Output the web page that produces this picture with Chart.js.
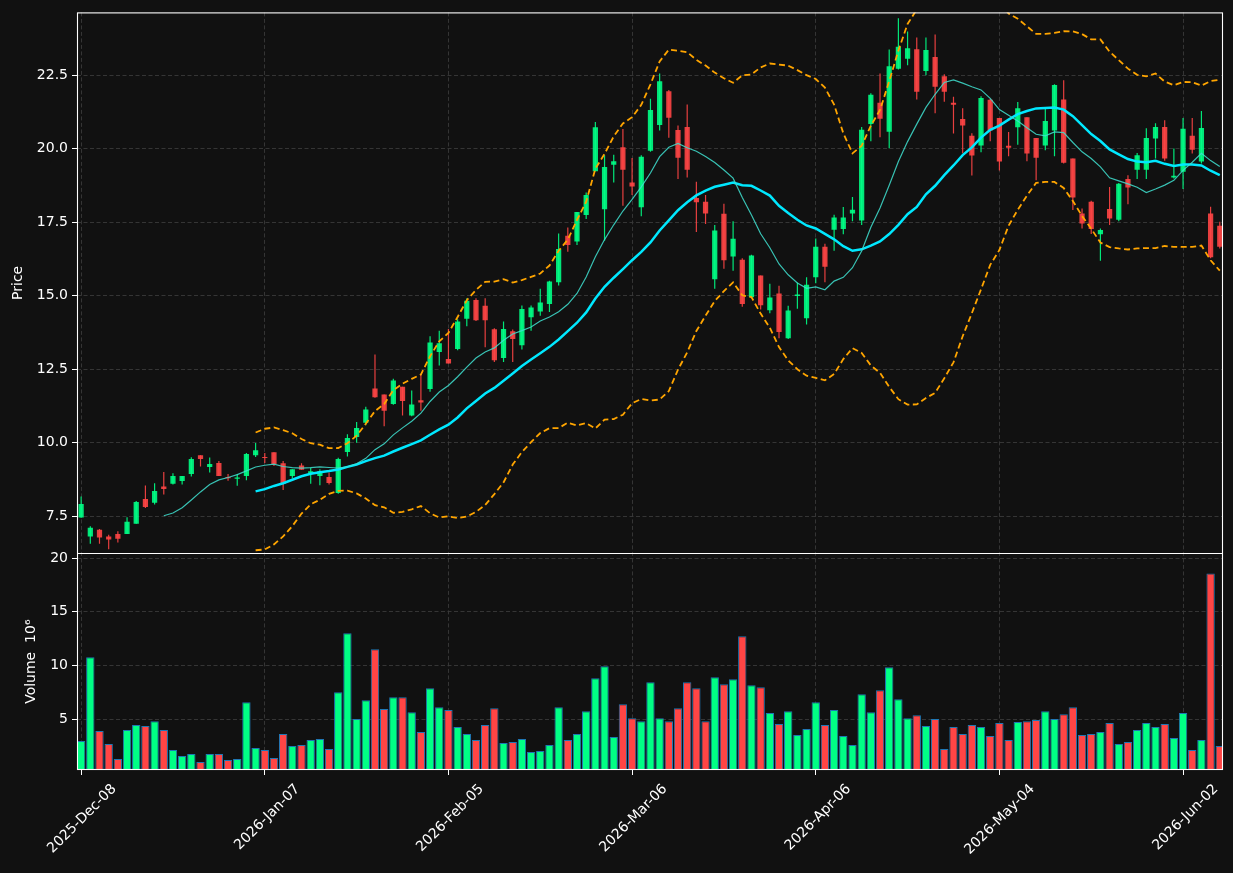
<!DOCTYPE html>
<html><head><meta charset="utf-8">
<script src="https://cdn.jsdelivr.net/npm/chart.js@4.4.1/dist/chart.umd.min.js"></script>
<style>html,body{margin:0;padding:0;background:#111111;overflow:hidden}#wrap{width:1233px;height:873px}canvas{display:block}</style>
</head><body><div id="wrap"><canvas id="c" width="1233" height="873"></canvas></div>
<script>
// ---- data ----
const tickIndex = [0, 20, 40, 60, 80, 100, 120];
const tickLabels = ['2025-Dec-08','2026-Jan-07','2026-Feb-05','2026-Mar-06','2026-Apr-06','2026-May-04','2026-Jun-02'];
const priceTicks = [7.5, 10, 12.5, 15, 17.5, 20, 22.5];
const volumeTicks = [5, 10, 15, 20];

const opens = [7.46,6.81,7.04,6.81,6.90,6.90,7.25,8.09,7.96,8.51,
8.61,8.70,8.94,9.58,9.18,9.31,8.84,8.78,8.87,9.58,
9.51,9.68,9.30,8.87,9.23,8.97,8.87,8.84,8.29,9.69,
10.20,10.68,11.85,11.64,11.32,11.91,10.93,11.45,11.83,13.09,
12.85,13.19,14.22,14.86,14.66,13.86,12.88,13.79,13.32,14.27,
14.47,14.72,15.46,17.04,16.85,17.75,19.24,17.94,19.46,20.05,
18.85,18.01,19.93,20.81,21.96,20.64,20.74,18.33,18.20,15.56,
17.79,16.34,16.23,14.95,15.69,14.51,15.08,13.56,14.99,14.24,
15.63,16.67,17.25,17.27,17.80,17.56,20.84,21.57,20.58,22.72,
23.06,23.39,22.65,23.12,22.47,21.57,21.01,20.44,20.11,21.67,
21.05,20.10,20.73,21.07,20.37,20.11,20.62,21.68,19.67,17.80,
18.20,17.09,17.95,17.59,18.97,19.29,19.29,20.35,20.74,19.02,
19.22,20.44,19.57,17.80,17.38];
const highs = [8.17,7.16,7.07,6.87,6.99,7.47,8.02,8.55,8.62,9.01,
8.96,8.87,9.51,9.58,9.50,9.38,8.94,8.94,9.65,9.99,
9.65,9.68,9.38,9.10,9.30,9.15,9.10,8.99,9.49,10.29,
10.71,11.23,13.00,11.64,12.18,11.91,11.78,12.35,13.62,13.81,
13.87,14.20,14.92,14.92,14.92,13.90,14.13,13.85,14.67,14.67,
15.24,15.51,17.12,17.32,17.85,18.51,20.91,19.78,19.80,20.67,
19.69,19.78,21.70,22.56,22.00,20.79,21.51,18.88,18.43,17.41,
18.13,17.54,16.28,16.40,15.69,15.41,15.34,14.66,15.45,15.63,
16.95,16.77,17.76,18.02,18.36,20.74,21.89,22.56,23.38,24.44,
23.99,23.79,23.79,23.89,22.54,21.77,21.38,20.53,21.79,21.70,
21.05,20.57,21.59,21.07,20.37,21.38,22.20,22.33,19.67,17.97,
18.23,17.29,18.70,18.84,19.10,19.86,20.70,20.87,20.97,20.01,
21.05,21.05,21.29,18.03,17.52];
const lows = [7.45,6.57,6.57,6.38,6.61,6.90,7.25,7.78,7.90,8.24,
8.58,8.58,8.85,9.19,8.99,8.87,8.71,8.54,8.73,9.52,
9.31,9.21,8.39,8.79,9.08,8.61,8.56,8.58,8.27,9.53,
10.00,10.60,11.53,10.56,11.29,10.93,10.90,11.09,11.74,12.63,
12.70,13.15,13.96,14.14,13.25,12.75,12.75,12.75,13.17,13.81,
14.32,14.45,15.35,16.50,16.73,17.61,19.24,16.87,18.85,18.06,
18.43,17.71,19.90,20.62,20.38,18.97,19.02,17.17,17.44,15.24,
15.92,15.85,14.63,14.92,14.53,14.41,13.56,13.53,14.56,14.02,
15.43,15.46,16.53,17.09,17.54,17.41,20.26,20.39,20.02,22.70,
22.84,21.68,22.50,21.21,21.60,20.52,19.85,19.09,19.88,20.26,
19.26,19.75,20.14,19.58,18.93,19.95,19.75,19.50,17.92,17.29,
17.10,16.19,17.41,17.54,18.11,18.97,18.97,19.67,19.59,18.99,
18.63,19.84,19.50,16.28,16.61];
const closes = [7.92,7.11,6.78,6.71,6.74,7.31,7.99,7.82,8.36,8.43,
8.87,8.87,9.45,9.45,9.28,8.87,8.79,8.81,9.62,9.75,
9.48,9.27,8.61,9.10,9.08,9.03,9.03,8.63,9.45,10.16,
10.50,11.13,11.55,11.09,12.12,11.42,11.30,11.37,13.41,13.39,
12.70,14.13,14.83,14.17,14.17,12.81,13.87,13.53,14.55,14.60,
14.77,15.49,16.59,16.73,17.85,18.43,20.73,19.38,19.58,19.29,
18.72,19.73,21.32,22.30,21.06,19.70,19.29,18.18,17.80,17.22,
16.21,16.94,14.72,16.37,14.68,14.94,13.77,14.50,15.04,15.38,
16.67,15.99,17.66,17.66,17.93,20.65,21.84,21.02,22.81,23.47,
23.42,21.94,23.36,22.11,21.94,21.50,20.79,19.77,21.73,20.62,
19.57,20.04,21.38,19.84,19.70,20.95,22.17,19.53,18.34,17.46,
17.27,17.24,17.63,18.81,18.68,19.78,20.37,20.74,19.67,19.08,
20.68,19.97,20.71,16.31,16.67];
const volumes = [2.96,10.76,3.89,2.68,1.29,3.98,4.44,4.35,4.81,3.98,
2.12,1.56,1.75,1.01,1.75,1.75,1.19,1.29,6.58,2.31,
2.12,1.38,3.61,2.49,2.59,3.05,3.14,2.21,7.51,12.99,
5.00,6.76,11.50,5.93,7.04,7.04,5.65,3.79,7.88,6.11,
5.84,4.26,3.61,3.05,4.44,6.02,2.77,2.86,3.14,1.94,
2.03,2.59,6.11,3.05,3.61,5.74,8.81,9.92,3.33,6.39,
5.09,4.81,8.44,5.09,4.81,6.02,8.44,7.88,4.81,8.90,
8.25,8.71,12.71,8.16,7.97,5.56,4.54,5.74,3.51,4.07,
6.58,4.44,5.84,3.42,2.59,7.32,5.65,7.69,9.83,6.86,
5.09,5.37,4.35,5.00,2.21,4.26,3.61,4.44,4.26,3.42,
4.63,3.05,4.72,4.81,4.91,5.74,5.00,5.46,6.11,3.51,
3.61,3.79,4.63,2.68,2.86,3.98,4.63,4.26,4.54,3.24,
5.56,2.12,3.05,18.56,2.49];

// ---- indicators derived from the closes (as the original chart does) ----
function rollingMean(arr, n) {
  return arr.map((v, i) => i < n - 1 ? null : arr.slice(i - n + 1, i + 1).reduce((a, b) => a + b, 0) / n);
}
function rollingStd(arr, n) {
  return arr.map((v, i) => {
    if (i < n - 1) return null;
    const w = arr.slice(i - n + 1, i + 1);
    const m = w.reduce((a, b) => a + b, 0) / n;
    return Math.sqrt(w.reduce((a, b) => a + (b - m) * (b - m), 0) / (n - 1));
  });
}
const ma10 = rollingMean(closes, 10);
const ma20 = rollingMean(closes, 20);
const sd20 = rollingStd(closes, 20);
const bbUpper = ma20.map((m, i) => m === null ? null : m + 2 * sd20[i]);
const bbLower = ma20.map((m, i) => m === null ? null : m - 2 * sd20[i]);

// ---- styling ----
const UP = '#00ff85', DOWN = '#ff4545';
const UPC = 'rgba(0,255,133,0.9)', DOWNC = 'rgba(255,69,69,0.9)';
const isUp = closes.map((c, i) => c >= opens[i]);
const idx = closes.map((c, i) => i);
const pts = arr => idx.map(i => ({x: i, y: arr[i]}));

Chart.defaults.font.family = 'DejaVu Sans';
Chart.defaults.font.size = 14;
Chart.defaults.color = '#ffffff';

const gridCommon = { color: '#3a3a3a', lineWidth: 0.9, tickColor: '#ffffff', tickLength: 5, tickWidth: 1, offset: false };

const framePlugin = {
  id: 'frame',
  beforeDraw(chart) {
    const c = chart.ctx; c.save(); c.fillStyle = '#111111'; c.fillRect(0, 0, chart.width, chart.height); c.restore();
  },
  afterDraw(chart) {
    const c = chart.ctx, a = chart.chartArea, y = chart.scales.y, v = chart.scales.yv;
    c.save(); c.strokeStyle = '#ffffff'; c.lineWidth = 1.1;
    c.strokeRect(a.left + 0.5, y.top + 0.5, a.right - a.left - 1, v.bottom - y.top - 1);
    c.beginPath(); c.moveTo(a.left, Math.round(y.bottom) + 0.5); c.lineTo(a.right, Math.round(y.bottom) + 0.5); c.stroke();
    c.restore();
  }
};

new Chart(document.getElementById('c'), {
  type: 'bar',
  plugins: [framePlugin],
  data: {
    datasets: [
      { type: 'line', label: 'MA10', data: pts(ma10), yAxisID: 'y', borderColor: 'rgba(64,224,208,0.85)', borderWidth: 1.2, pointRadius: 0, tension: 0, order: 1 },
      { type: 'line', label: 'MA20', data: pts(ma20), yAxisID: 'y', borderColor: '#00e8ff', borderWidth: 2.5, pointRadius: 0, tension: 0, order: 1 },
      { type: 'line', label: 'BB upper', data: pts(bbUpper), yAxisID: 'y', borderColor: '#ffa500', borderWidth: 1.8, borderDash: [6, 3.5], pointRadius: 0, tension: 0, order: 1 },
      { type: 'line', label: 'BB lower', data: pts(bbLower), yAxisID: 'y', borderColor: '#ffa500', borderWidth: 1.8, borderDash: [6, 3.5], pointRadius: 0, tension: 0, order: 1 },
      { label: 'body', data: idx.map(i => ({x: i, y: [opens[i], closes[i]]})), yAxisID: 'y', grouped: false,
        backgroundColor: isUp.map(u => u ? UPC : DOWNC), barPercentage: 0.57, categoryPercentage: 1, minBarLength: 1.2, borderWidth: 0, order: 2 },
      { label: 'wick', data: idx.map(i => ({x: i, y: [lows[i], highs[i]]})), yAxisID: 'y', grouped: false,
        backgroundColor: isUp.map(u => u ? UPC : DOWNC), barPercentage: 0.13, categoryPercentage: 1, borderWidth: 0, order: 3 },
      { label: 'Volume', data: idx.map(i => ({x: i, y: volumes[i]})), yAxisID: 'yv', grouped: false,
        backgroundColor: isUp.map(u => u ? UP : DOWN), borderColor: '#1f77b4', borderWidth: 1, borderSkipped: false,
        barPercentage: 0.91, categoryPercentage: 1, order: 2 }
    ]
  },
  options: {
    responsive: false, animation: false, devicePixelRatio: 1,
    layout: { padding: { top: 10, right: 10, left: 0, bottom: 0 } },
    plugins: { legend: { display: false }, tooltip: { enabled: false } },
    scales: {
      x: {
        type: 'linear', position: 'bottom', min: -0.45, max: 124.35, offset: false,
        afterBuildTicks: s => { s.ticks = tickIndex.map(v => ({value: v})); },
        afterFit: s => { s.height = 103; },
        ticks: { autoSkip: false, minRotation: 45, maxRotation: 45, padding: 6, labelOffset: 33, color: '#ffffff',
                 callback: v => { const k = tickIndex.indexOf(v); return k >= 0 ? tickLabels[k] : ''; } },
        grid: gridCommon,
        border: { display: false, dash: [4, 2.5] }
      },
      yv: {
        type: 'linear', position: 'left', stack: 'panels', stackWeight: 217.3, min: 0.26, max: 20.44, offset: false,
        afterBuildTicks: s => { s.ticks = volumeTicks.map(v => ({value: v})); },
        afterFit: s => { s.width = 77; },
        ticks: { padding: 4, color: '#ffffff', callback: v => String(v) },
        title: { display: true, text: 'Volume  10\u2076', color: '#ffffff', font: { size: 14 }, padding: { top: 23, bottom: 0 } },
        grid: gridCommon,
        border: { display: false, dash: [4, 2.5] }
      },
      y: {
        type: 'linear', position: 'left', stack: 'panels', stackWeight: 542.5, min: 6.24, max: 24.64, offset: false,
        afterBuildTicks: s => { s.ticks = priceTicks.map(v => ({value: v})); },
        afterFit: s => { s.width = 77; },
        ticks: { padding: 4, color: '#ffffff', callback: v => Number(v).toFixed(1) },
        title: { display: true, text: 'Price', color: '#ffffff', font: { size: 14 }, padding: { top: 9.6, bottom: 0 } },
        grid: gridCommon,
        border: { display: false, dash: [4, 2.5] }
      }
    }
  }
});
</script>
</body></html>
